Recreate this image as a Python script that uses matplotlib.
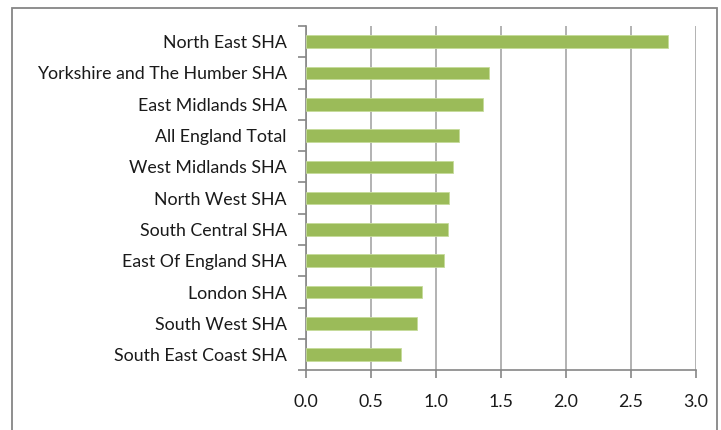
import matplotlib
matplotlib.use("Agg")
import matplotlib.pyplot as plt
from matplotlib.patches import Rectangle

regions = ["North East SHA", "Yorkshire and The Humber SHA", "East Midlands SHA",
           "All England Total", "West Midlands SHA", "North West SHA",
           "South Central SHA", "East Of England SHA", "London SHA",
           "South West SHA", "South East Coast SHA"]
values = [2.79, 1.41, 1.36, 1.18, 1.13, 1.10, 1.09, 1.06, 0.89, 0.85, 0.73]
xticks = [0.0, 0.5, 1.0, 1.5, 2.0, 2.5, 3.0]

plt.rcParams['font.family'] = ['Lato', 'DejaVu Sans']

fig = plt.figure(figsize=(7.21, 4.30), dpi=100)
ax = fig.add_axes([306.3 / 721, 1 - 370.3 / 430, (695.7 - 306.3) / 721, (370.3 - 26) / 430])

# outer chart frame
fig.patches.append(Rectangle((12 / 721, -0.01), (717 - 12) / 721, (426 - 0) / 430 + 0.01 - 4 / 430,
                             transform=fig.transFigure, fill=False, edgecolor='#868686', lw=1.3))

pos = list(range(len(regions)))[::-1]
ax.barh(pos, values, height=0.4, color='#9BBB59', edgecolor='#C5DB9A', linewidth=0.6, zorder=3)

ax.set_xlim(0, 3.0)
ax.set_ylim(-0.5, len(regions) - 0.5)
ax.set_xticks(xticks)
ax.set_xticklabels([f"{t:.1f}" for t in xticks])
ax.set_yticks(pos)
ax.set_yticklabels(regions)
ax.set_yticks([p - 0.5 for p in range(len(regions) + 1)], minor=True)

ax.grid(axis='x', color='#A6A6A6', lw=1.2, zorder=0)
for s in ['top', 'right']:
    ax.spines[s].set_visible(False)
for s in ['left', 'bottom']:
    ax.spines[s].set_color('#868686')
    ax.spines[s].set_linewidth(1.2)

ax.tick_params(axis='y', which='major', length=0, pad=14, labelsize=12.8, labelcolor='#1a1a1a')
ax.tick_params(axis='y', which='minor', length=6, color='#868686', width=1.2)
ax.tick_params(axis='x', length=6, color='#868686', width=1.2, pad=11, labelsize=12.8,
               labelcolor='#1a1a1a')

fig.savefig("out.png", dpi=100)
